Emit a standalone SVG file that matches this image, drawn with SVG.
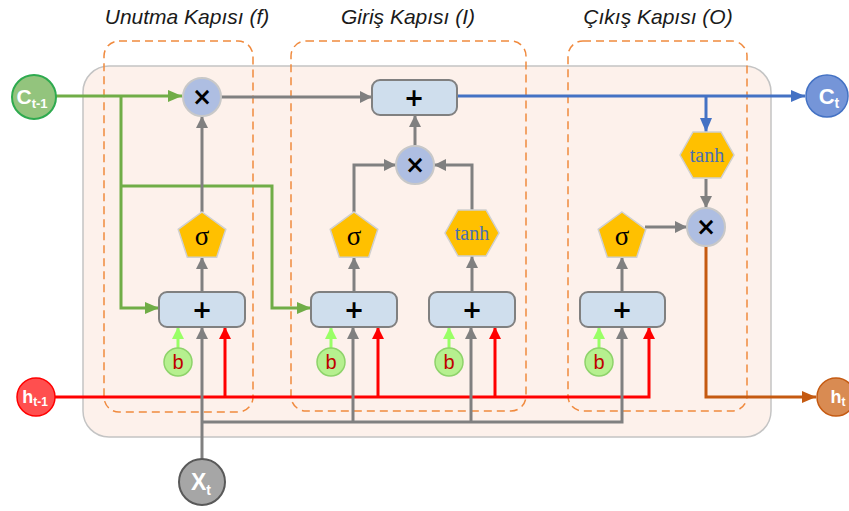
<svg xmlns="http://www.w3.org/2000/svg" width="849" height="511" viewBox="0 0 849 511">
<style>
.title{font-family:"Liberation Sans","Open Sans",sans-serif;font-style:italic;font-size:21px;fill:#1a1a1a;text-anchor:middle}
.gate{fill:none;stroke:#F08A3E;stroke-width:1.5;stroke-dasharray:8 5}
.box{fill:#CFDEED;stroke:#808080;stroke-width:2}
.mul{fill:#AEBEE2;stroke:#C8C8C8;stroke-width:2}
.act{fill:#FFC000;stroke:#D0D0D0;stroke-width:1.5}
.bias{fill:#B6F08F;stroke:#8ED36A;stroke-width:1.5}
.sym{font-family:"DejaVu Sans","Liberation Sans",sans-serif;font-size:24px;font-weight:bold;fill:#000;text-anchor:middle}
.sig{font-family:"Liberation Serif","DejaVu Serif",serif;font-size:27px;fill:#000;text-anchor:middle}
.tanh{font-family:"Liberation Serif","DejaVu Serif",serif;font-size:20px;fill:#4A6FB5;text-anchor:middle}
.b{font-family:"Liberation Sans",sans-serif;font-size:20px;fill:#C00000;text-anchor:middle}
.io{font-family:"Liberation Sans","Open Sans",sans-serif;font-weight:bold;fill:#fff;text-anchor:middle}
.g{fill:none;stroke:#808080;stroke-width:3}
.gr{fill:none;stroke:#70AD47;stroke-width:3}
.lg{fill:none;stroke:#99FF66;stroke-width:3}
.r{fill:none;stroke:#FF0000;stroke-width:3}
.bl{fill:none;stroke:#4472C4;stroke-width:3}
.o{fill:none;stroke:#C55A11;stroke-width:3}
</style>
<defs>
<marker id="aG" markerUnits="userSpaceOnUse" markerWidth="12" markerHeight="12" refX="12" refY="6" orient="auto"><path d="M0,0 L12,6 L0,12 z" fill="#808080"/></marker>
<marker id="aGr" markerUnits="userSpaceOnUse" markerWidth="14" markerHeight="12" refX="14" refY="6" orient="auto"><path d="M0,0 L14,6 L0,12 z" fill="#70AD47"/></marker>
<marker id="aLg" markerUnits="userSpaceOnUse" markerWidth="12" markerHeight="12" refX="12" refY="6" orient="auto"><path d="M0,0 L12,6 L0,12 z" fill="#99FF66"/></marker>
<marker id="aR" markerUnits="userSpaceOnUse" markerWidth="12" markerHeight="12" refX="12" refY="6" orient="auto"><path d="M0,0 L12,6 L0,12 z" fill="#FF0000"/></marker>
<marker id="aB" markerUnits="userSpaceOnUse" markerWidth="14" markerHeight="12" refX="14" refY="6" orient="auto"><path d="M0,0 L14,6 L0,12 z" fill="#4472C4"/></marker>
<marker id="aO" markerUnits="userSpaceOnUse" markerWidth="14" markerHeight="12" refX="14" refY="6" orient="auto"><path d="M0,0 L14,6 L0,12 z" fill="#C55A11"/></marker>
<polygon id="pent" points="0,-25 23.8,-7.7 14.7,20.2 -14.7,20.2 -23.8,-7.7"/>
<polygon id="hex" points="-27,0 -14,-23 14,-23 27,0 14,23 -14,23"/>
</defs>

<rect x="83" y="66" width="688" height="371" rx="26" fill="#FDF1EB" stroke="#C4C4C4" stroke-width="1.5"/>

<g id="gates">
<rect class="gate" x="104" y="41" width="149" height="371" rx="15"/>
<rect class="gate" x="291" y="41" width="235" height="370" rx="15"/>
<rect class="gate" x="568" y="41" width="179" height="370" rx="15"/>
<text class="title" x="187" y="24">Unutma Kapısı (f)</text>
<text class="title" x="408" y="24">Giriş Kapısı (I)</text>
<text class="title" x="658" y="24">Çıkış Kapısı (O)</text>
</g>

<g id="connectors">
<path class="gr" d="M56,96 H182" marker-end="url(#aGr)"/>
<path class="gr" d="M121,96 V308 H159" marker-end="url(#aGr)"/>
<path class="gr" d="M121,186 H272 V308 H311" marker-end="url(#aGr)"/>
<path class="r" d="M55,397 H649 V327" marker-end="url(#aR)"/>
<path class="r" d="M225,397 V327" marker-end="url(#aR)"/>
<path class="r" d="M378,397 V327" marker-end="url(#aR)"/>
<path class="r" d="M495,397 V327" marker-end="url(#aR)"/>
<path class="g" d="M202,459 V327" marker-end="url(#aG)"/>
<path class="g" d="M202,422 H622 V327" marker-end="url(#aG)"/>
<path class="g" d="M353,422 V327" marker-end="url(#aG)"/>
<path class="g" d="M471,422 V327" marker-end="url(#aG)"/>
<path class="lg" d="M178,348 V327" marker-end="url(#aLg)"/>
<path class="lg" d="M331,348 V327" marker-end="url(#aLg)"/>
<path class="lg" d="M449,348 V327" marker-end="url(#aLg)"/>
<path class="lg" d="M599,348 V327" marker-end="url(#aLg)"/>
<path class="g" d="M202,292 V257" marker-end="url(#aG)"/>
<path class="g" d="M202,212 V116" marker-end="url(#aG)"/>
<path class="g" d="M221,97 H372" marker-end="url(#aG)"/>
<path class="g" d="M354,292 V257" marker-end="url(#aG)"/>
<path class="g" d="M472,292 V256" marker-end="url(#aG)"/>
<path class="g" d="M354,212 V165 H396" marker-end="url(#aG)"/>
<path class="g" d="M472,210 V165 H434" marker-end="url(#aG)"/>
<path class="g" d="M415,146 V115" marker-end="url(#aG)"/>
<path class="g" d="M622,292 V257" marker-end="url(#aG)"/>
<path class="g" d="M645,227 H687" marker-end="url(#aG)"/>
<path class="g" d="M706,179 V208" marker-end="url(#aG)"/>
<path class="bl" d="M457,96 H805" marker-end="url(#aB)"/>
<path class="bl" d="M706,96 V132" marker-end="url(#aB)"/>
<path class="o" d="M706,246 V397 H816" marker-end="url(#aO)"/>
</g>

<g id="c_prev"><circle cx="34" cy="97" r="22" fill="#93C47D" stroke="#2EAA4F" stroke-width="2"/><text class="io" x="32" y="104" font-size="21">C<tspan font-size="13" dy="4">t-1</tspan></text></g>
<g id="h_prev"><circle cx="36" cy="397" r="19" fill="#FF4F4F" stroke="#FF0000" stroke-width="1.5"/><text class="io" x="35" y="403" font-size="18">h<tspan font-size="12" dy="3">t-1</tspan></text></g>
<g id="x_t"><circle cx="202" cy="482" r="23" fill="#A6A6A6" stroke="#595959" stroke-width="2"/><text class="io" x="201" y="490" font-size="23">X<tspan font-size="14" dy="5">t</tspan></text></g>
<g id="c_t"><circle cx="827" cy="96" r="21" fill="#7595D8" stroke="#4472C4" stroke-width="1.5"/><text class="io" x="829" y="104" font-size="22">C<tspan font-size="14" dy="4">t</tspan></text></g>
<g id="h_t"><circle cx="836" cy="397" r="19" fill="#D98B52" stroke="#C55A11" stroke-width="1.5"/><text class="io" x="838" y="403" font-size="18">h<tspan font-size="12" dy="3">t</tspan></text></g>

<g id="f_mul"><circle class="mul" cx="202" cy="97" r="19"/><text class="sym" x="202" y="105">×</text></g>
<g id="f_sig"><use href="#pent" class="act" x="202" y="237"/><text class="sig" x="202" y="245">σ</text></g>
<g id="f_sum"><rect class="box" x="159" y="292" width="86" height="35" rx="8"/><text class="sym" x="202" y="318">+</text></g>
<g id="f_b"><circle class="bias" cx="178" cy="362" r="14"/><text class="b" x="178" y="369">b</text></g>

<g id="c_sum"><rect class="box" x="372" y="80" width="85" height="35" rx="8"/><text class="sym" x="414" y="106">+</text></g>
<g id="i_mul"><circle class="mul" cx="415" cy="165" r="19"/><text class="sym" x="415" y="173">×</text></g>
<g id="i_sig"><use href="#pent" class="act" x="354" y="237"/><text class="sig" x="354" y="245">σ</text></g>
<g id="i_tanh"><use href="#hex" class="act" x="472" y="233"/><text class="tanh" x="472" y="240">tanh</text></g>
<g id="i_sum1"><rect class="box" x="311" y="292" width="86" height="35" rx="8"/><text class="sym" x="354" y="318">+</text></g>
<g id="i_sum2"><rect class="box" x="429" y="292" width="86" height="35" rx="8"/><text class="sym" x="472" y="318">+</text></g>
<g id="i_b1"><circle class="bias" cx="331" cy="362" r="14"/><text class="b" x="331" y="369">b</text></g>
<g id="i_b2"><circle class="bias" cx="449" cy="362" r="14"/><text class="b" x="449" y="369">b</text></g>

<g id="o_tanh"><use href="#hex" class="act" x="707" y="155"/><text class="tanh" x="707" y="162">tanh</text></g>
<g id="o_mul"><circle class="mul" cx="706" cy="227" r="19"/><text class="sym" x="706" y="235">×</text></g>
<g id="o_sig"><use href="#pent" class="act" x="622" y="237"/><text class="sig" x="622" y="245">σ</text></g>
<g id="o_sum"><rect class="box" x="580" y="292" width="85" height="35" rx="8"/><text class="sym" x="622" y="318">+</text></g>
<g id="o_b"><circle class="bias" cx="599" cy="362" r="14"/><text class="b" x="599" y="369">b</text></g>
</svg>
